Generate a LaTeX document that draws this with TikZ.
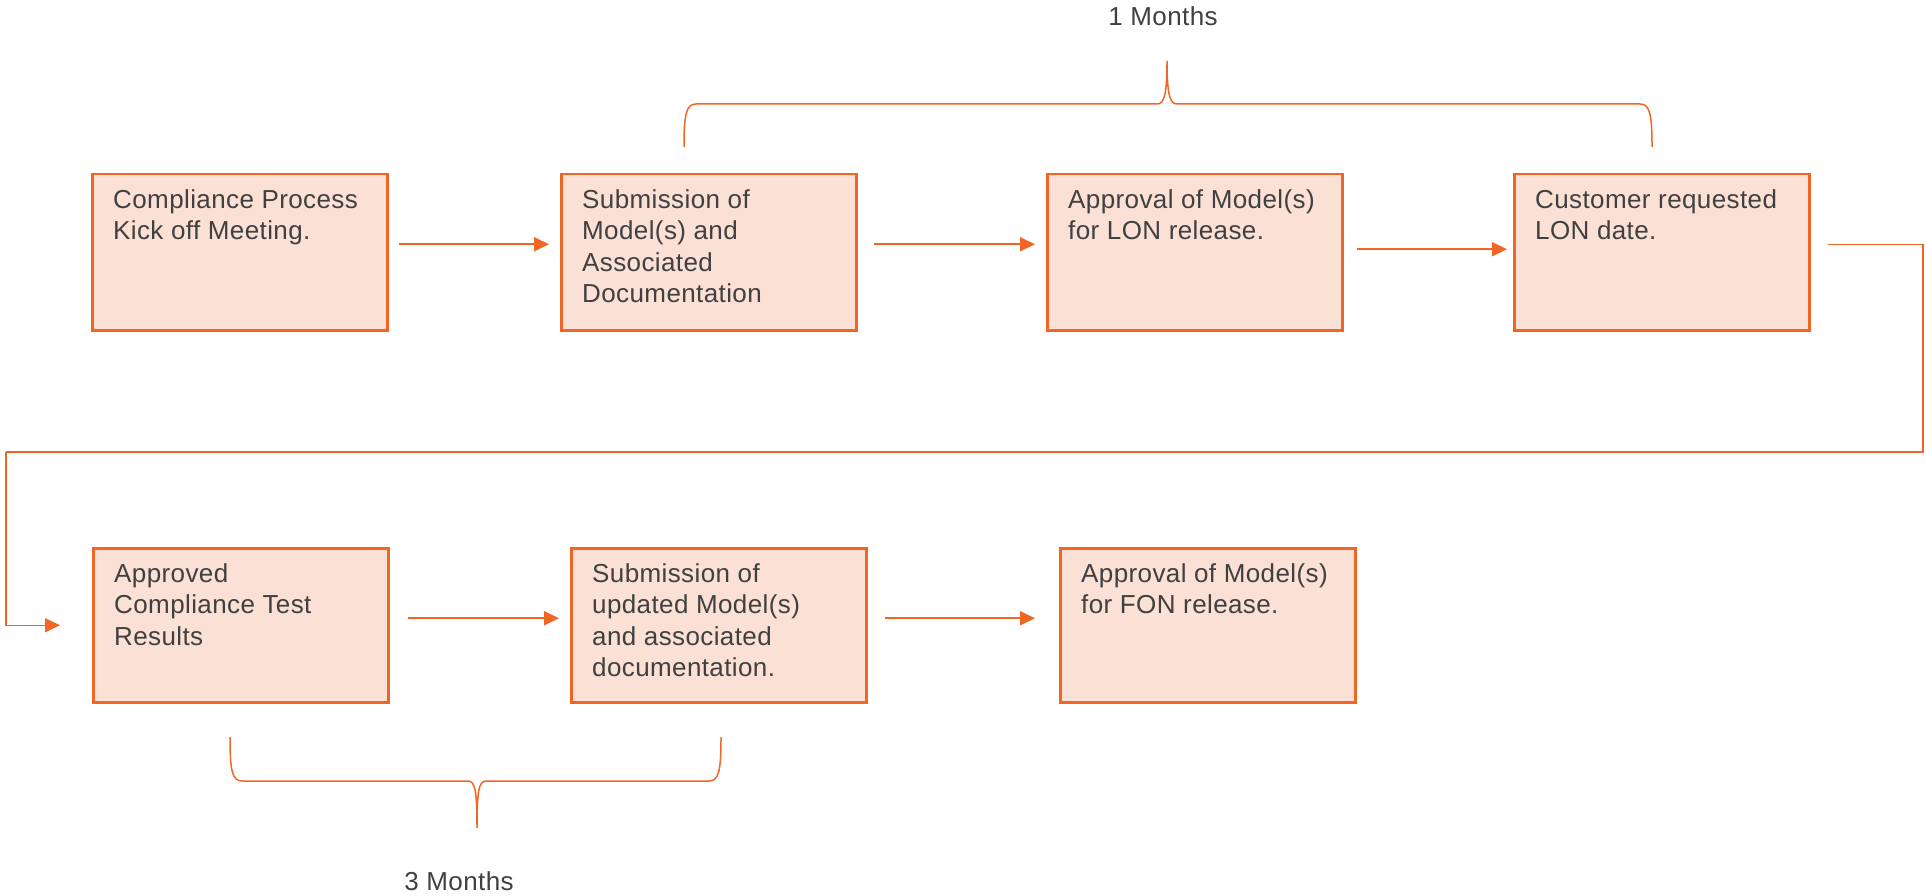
\documentclass[tikz,border=0pt]{standalone}
\usepackage{fontspec}
\setmainfont{Liberation Sans}[LetterSpace=1.5]
\usetikzlibrary{arrows.meta}
\definecolor{orng}{RGB}{241,102,37}
\definecolor{peach}{RGB}{251,224,213}
\definecolor{txt}{RGB}{64,64,64}
\begin{document}
\begin{tikzpicture}[x=1pt,y=-1pt,
  box/.style={draw=orng,line width=2.5pt,fill=peach,minimum width=295pt,minimum height=156pt,anchor=north west,inner sep=0pt},
  lbl/.style={anchor=north west,align=left,inner sep=0pt,text=txt,font=\fontsize{26}{31.5}\selectfont},
  bracelbl/.style={inner sep=0pt,text=txt,font=\fontsize{26}{31.5}\selectfont},
  arr/.style={draw=orng,line width=1.8pt,-{Triangle[length=15pt,width=14pt]}},
  conn/.style={draw=orng,line width=1.5pt},
  brace/.style={draw=orng,line width=1.5pt}]
\useasboundingbox (0,0) rectangle (1926,896);

% row 1
\node[box] (b1) at (91,173) {};
\node[box] (b2) at (560,173) {};
\node[box] (b3) at (1046,173) {};
\node[box] (b4) at (1513,173) {};
% row 2
\node[box,minimum height=154pt] (b5) at (92,547) {};
\node[box,minimum height=154pt] (b6) at (570,547) {};
\node[box,minimum height=154pt] (b7) at (1059,547) {};

\node[lbl] (t1) at ([xshift=22pt,yshift=-16pt]b1.north west) {Compliance Process\\Kick off Meeting.};
\node[lbl] (t2) at ([xshift=22pt,yshift=-16pt]b2.north west) {Submission of\\Model(s) and\\Associated\\Documentation};
\node[lbl] (t3) at ([xshift=22pt,yshift=-16pt]b3.north west) {Approval of Model(s)\\for LON release.};
\node[lbl] (t4) at ([xshift=22pt,yshift=-16pt]b4.north west) {Customer requested\\LON date.};
\node[lbl] (t5) at ([xshift=22pt,yshift=-16pt]b5.north west) {Approved\\Compliance Test\\Results};
\node[lbl] (t6) at ([xshift=22pt,yshift=-16pt]b6.north west) {Submission of\\updated Model(s)\\and associated\\documentation.};
\node[lbl] (t7) at ([xshift=22pt,yshift=-16pt]b7.north west) {Approval of Model(s)\\for FON release.};

% arrows
\draw[arr] ([xshift=10pt,yshift=8pt]b1.east) -- ([xshift=-11pt,yshift=8pt]b2.west);
\draw[arr] ([xshift=16pt,yshift=8pt]b2.east) -- ([xshift=-11pt,yshift=8pt]b3.west);
\draw[arr] ([xshift=13pt,yshift=3pt]b3.east) -- ([xshift=-6pt,yshift=3pt]b4.west);
\draw[arr] ([xshift=18pt,yshift=7pt]b5.east) -- ([xshift=-11pt,yshift=7pt]b6.west);
\draw[arr] ([xshift=17pt,yshift=7pt]b6.east) -- ([xshift=-24pt,yshift=7pt]b7.west);

% long connector
\coordinate (c1) at (1923,452);
\coordinate (c2) at (6,452);
\draw[conn] ([xshift=17pt,yshift=8pt]b4.east) -| (c1) -- (c2);
\draw[arr,line width=1.5pt] (c2) |- ([xshift=-32pt]b5.west);

% braces
\draw[brace] (684,147) .. controls (684,115) and (686,104) .. (696,104) -- (1157,104)
  .. controls (1164,104) and (1167,95) .. (1167,61)
  .. controls (1167,95) and (1170,104) .. (1177,104) -- (1640,104)
  .. controls (1650,104) and (1652,115) .. (1652,147);
\node[bracelbl] (m1) at (1163,16) {1 Months};

\draw[brace] (230,737) .. controls (230,770) and (232,781) .. (242,781) -- (468,781)
  .. controls (475,781) and (477,790) .. (477,828)
  .. controls (477,790) and (479,781) .. (486,781) -- (709,781)
  .. controls (719,781) and (721,770) .. (721,737);
\node[bracelbl] (m3) at (459,881) {3 Months};
\end{tikzpicture}
\end{document}
